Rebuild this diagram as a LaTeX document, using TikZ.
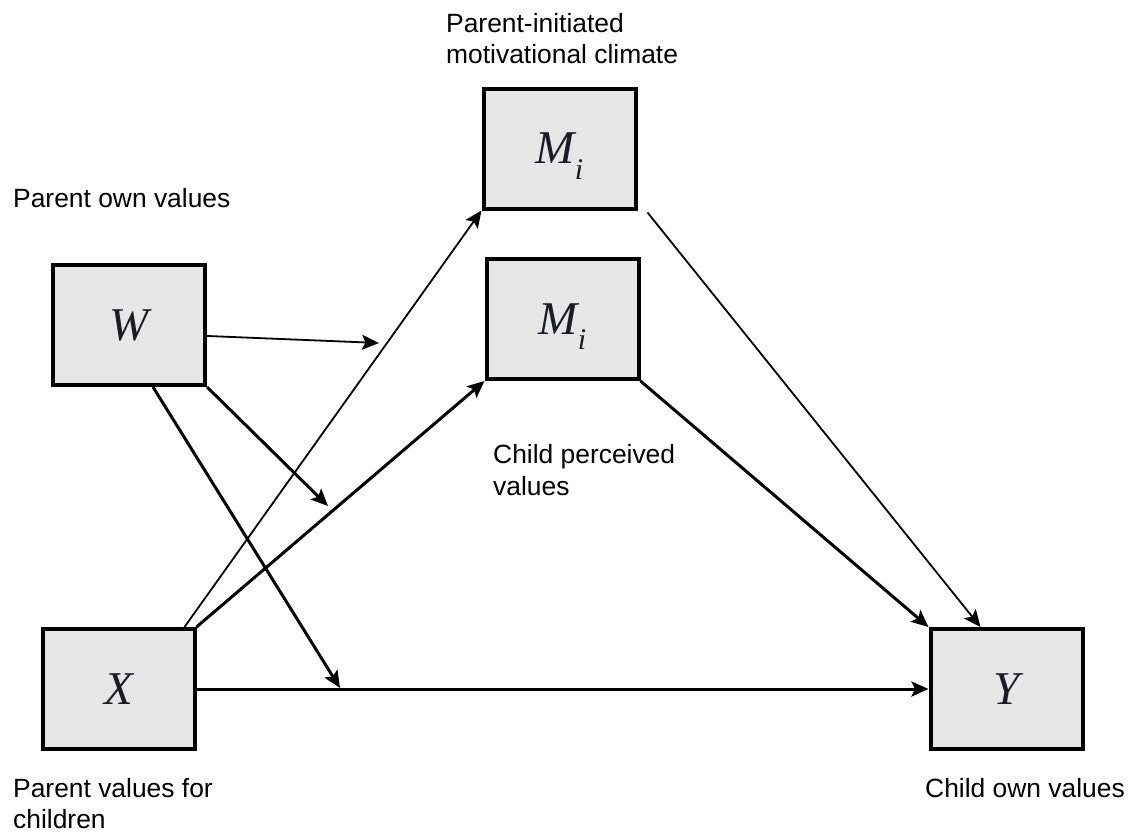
\documentclass[tikz,border=0pt]{standalone}
\usepackage{fontspec}
\setmainfont{Liberation Sans}
\newfontfamily\varfont{Liberation Serif}
\usetikzlibrary{arrows.meta,calc}
\definecolor{boxgray}{RGB}{230,230,230}
\definecolor{varink}{RGB}{28,28,40}
\newcommand{\mvar}{M\raisebox{-0.33em}{\fontsize{30}{30}\selectfont i}}

\begin{document}
\begin{tikzpicture}[x=1pt,y=-1pt,
  var/.style={draw=black, line width=4pt, fill=boxgray,
    minimum width=152pt, minimum height=120pt, inner sep=0pt,
    text depth=0pt, text=varink,
    font=\varfont\itshape\fontsize{47}{47}\selectfont},
  lbl/.style={anchor=base west, inner sep=0pt,
    font=\fontsize{26.4}{31}\selectfont},
  tip/.style={-{Stealth[length=17pt,width=15pt,inset=3.5pt]}},
  lightarrow/.style={tip, line width=1.8pt},
  heavyarrow/.style={tip, line width=3pt}]

  % canvas
  \fill[white] (0,0) rectangle (1132,836);
  \useasboundingbox (0,0) rectangle (1132,836);

  % variables
  \node[var] (Mt) at (559.5,148.5) {\mvar};
  \node[var] (Mm) at (562.5,319)   {\mvar};
  \node[var] (W)  at (129,325)     {W};
  \node[var] (X)  at (118.5,689)   {X};
  \node[var] (Y)  at (1006.5,689)  {Y};

  % labels
  \node[lbl] (lPI1) at (446,32)  {Parent-initiated};
  \node[lbl] (lPI2) at (446,63)  {motivational climate};
  \node[lbl] (lPO)  at (13,207)  {Parent own values};
  \node[lbl] (lCP1) at (493,463) {Child perceived};
  \node[lbl] (lCP2) at (493,495) {values};
  \node[lbl] (lPV1) at (13,797)  {Parent values for};
  \node[lbl] (lPV2) at (13,828)  {children};
  \node[lbl] (lCO)  at (925,797) {Child own values};

  % moderation targets on the paths
  \coordinate (modA) at (379,343);
  \coordinate (modB) at (328,506);
  \coordinate (modC) at (340,688);

  % paths
  \draw[lightarrow] ($(X.north east)+(-12,0)$) -- (Mt.south west);
  \draw[heavyarrow] (X.north east) -- (Mm.south west);
  \draw[lightarrow] (W.-8) -- (modA);
  \draw[heavyarrow] (W.south east) -- (modB);
  \draw[heavyarrow] ($(W.south)+(24,0)$) -- (modC);
  \draw[heavyarrow] (X.east) -- (Y.west);
  \draw[heavyarrow] (Mm.south east) -- (Y.north west);
  \draw[lightarrow] ($(Mt.south east)+(10,2)$) -- ($(Y.north)+(-26,0)$);
\end{tikzpicture}
\end{document}
